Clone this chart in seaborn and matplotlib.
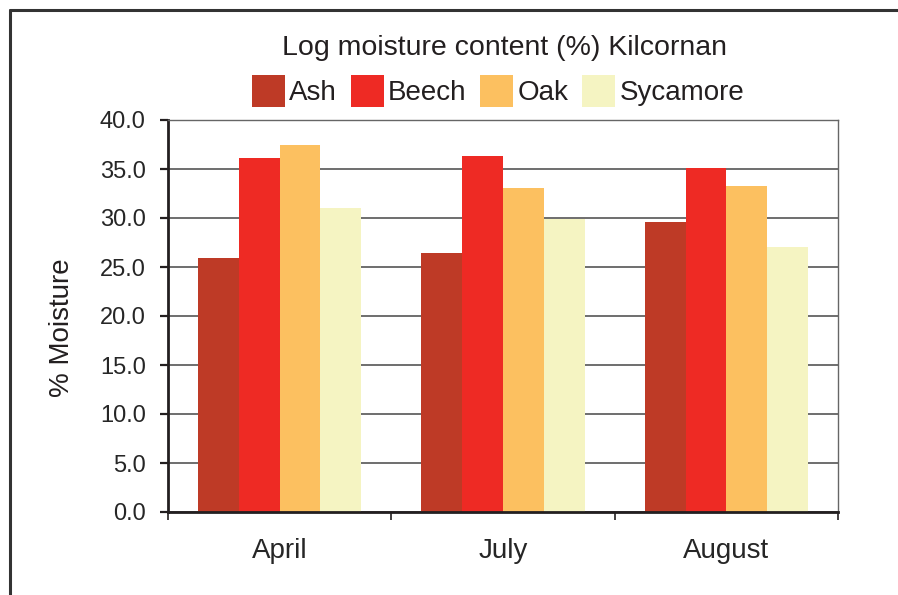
import pandas as pd
import matplotlib.pyplot as plt
import seaborn as sns
from matplotlib.lines import Line2D

# Data
months = ["April", "July", "August"]
species = ["Ash", "Beech", "Oak", "Sycamore"]
ash = [25.9, 26.4, 29.6]
beech = [36.1, 36.3, 35.1]
oak = [37.4, 33.1, 33.3]
sycamore = [31.0, 29.9, 27.0]
colors = ["#BE3A26", "#EE2A24", "#FCC060", "#F5F4C2"]

rows = []
for sp, vals in zip(species, [ash, beech, oak, sycamore]):
    for m, v in zip(months, vals):
        rows.append({"month": m, "species": sp, "moisture": v})
df = pd.DataFrame(rows)

sns.set_style("white")
plt.rcParams["font.family"] = ["Liberation Sans", "DejaVu Sans"]

fig = plt.figure(figsize=(8.98, 5.95), dpi=100)
ax = fig.add_axes([168 / 898, 1 - 512 / 595, 670 / 898, 392 / 595])

sns.barplot(data=df, x="month", y="moisture", hue="species", order=months,
            hue_order=species, palette=colors, width=0.731, saturation=1,
            linewidth=0, errorbar=None, ax=ax)

ax.set_xlim(-0.5, 2.5)
ax.set_ylim(0, 40)
ax.set_yticks([i * 5 for i in range(9)])
ax.set_yticklabels([f"{i * 5:.1f}" for i in range(9)])
ax.set_axisbelow(True)
ax.yaxis.grid(True, color="#555555", linewidth=1.2)
ax.xaxis.grid(False)

for side in ["left", "bottom"]:
    ax.spines[side].set_color("#231f20")
    ax.spines[side].set_linewidth(2.0)
for side in ["top", "right"]:
    ax.spines[side].set_color("#666666")
    ax.spines[side].set_linewidth(1.0)

ax.tick_params(axis="y", which="major", direction="out", length=6, width=1.6,
               color="#231f20", labelsize=17, pad=10, left=True)
ax.tick_params(axis="x", which="major", length=0, labelsize=20, pad=19)
ax.set_xticks([-0.5, 0.5, 1.5, 2.5], minor=True)
ax.tick_params(axis="x", which="minor", direction="out", length=6, width=1.2,
               color="#231f20", bottom=True)
ax.set_xlabel("")
ax.set_ylabel("")

fig.text(62 / 898, 1 - 328 / 595, "% Moisture", rotation=90, ha="center",
         va="center", fontsize=20, color="#231f20")
fig.text(504 / 898, 1 - 55 / 595, "Log moisture content (%) Kilcornan",
         ha="center", va="baseline", fontsize=20.5, color="#231f20")

handles, labels = ax.get_legend_handles_labels()
if ax.get_legend() is not None:
    ax.get_legend().remove()
fig.legend(handles, labels, loc="center", bbox_to_anchor=(498 / 898, 1 - 91 / 595),
           ncol=4, frameon=False, fontsize=20, handlelength=1.19,
           handleheight=1.45, handletextpad=0.15, columnspacing=0.5,
           labelcolor="#231f20")

# figure border (left and top)
fig.add_artist(Line2D([9.5 / 898, 9.5 / 898], [0, 1 - 10 / 595],
                      transform=fig.transFigure, color="#333333", linewidth=2.2))
fig.add_artist(Line2D([9.5 / 898, 1], [1 - 10 / 595, 1 - 10 / 595],
                      transform=fig.transFigure, color="#333333", linewidth=2.2))

fig.savefig("out.png", dpi=100)
